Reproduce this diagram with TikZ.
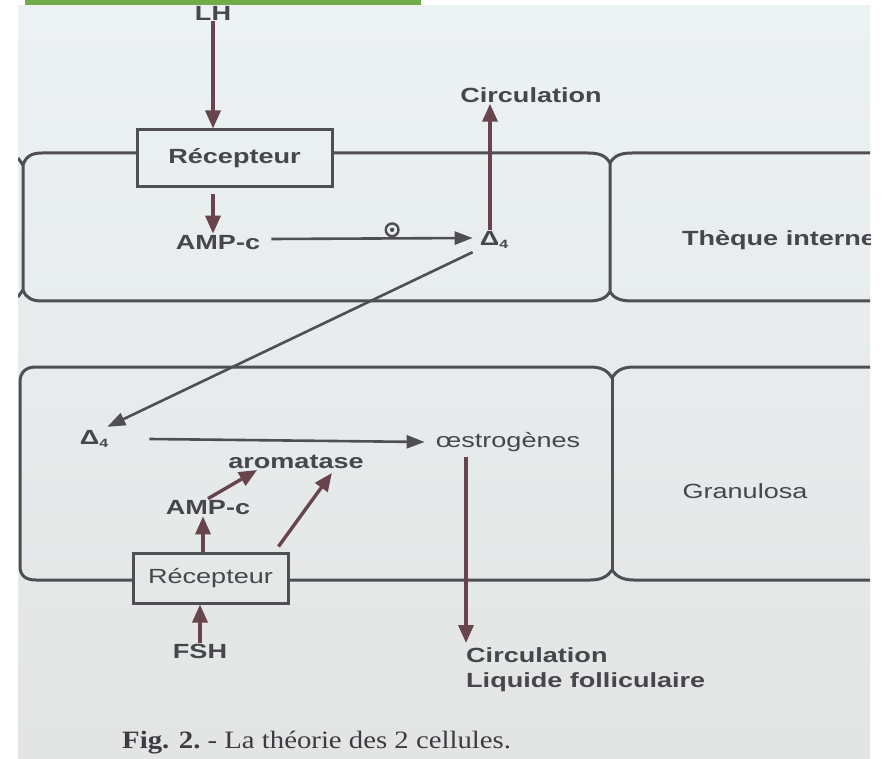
\documentclass[tikz,border=0pt]{standalone}
\usepackage{fontspec}
\setmainfont{Liberation Serif}
\newfontfamily\labfont[FakeStretch=1.32]{Liberation Sans}
\newfontfamily\capfont[FakeStretch=1.15]{Liberation Serif}
\usetikzlibrary{arrows.meta,calc}
\definecolor{bgtop}{RGB}{236,241,244}
\definecolor{bgbot}{RGB}{226,229,227}
\definecolor{cellline}{RGB}{78,78,84}
\definecolor{arrcol}{RGB}{104,68,76}
\definecolor{txtcol}{RGB}{70,70,76}
\definecolor{greenbar}{RGB}{112,173,71}
\tikzset{
  lab/.style={font=\labfont\fontsize{20.5}{24}\selectfont\bfseries, text=txtcol, inner sep=1pt},
  labr/.style={font=\labfont\fontsize{20.5}{24}\selectfont, text=txtcol, inner sep=1pt},
  rbox/.style={draw=cellline, line width=3pt, inner sep=0pt},
  arr/.style={draw=arrcol, line width=3.4pt, -{Triangle[length=18pt,width=15pt]}},
  arrthin/.style={draw=cellline, line width=2.6pt, -{Triangle[length=18pt,width=13pt]}},
  cell/.style={draw=cellline, line width=3pt, line join=round},
}
\begin{document}
\begin{tikzpicture}[x=1pt,y=-1pt]
\useasboundingbox (0,0) rectangle (886,759);
\fill[white] (0,0) rectangle (886,759);
\shade[top color=bgtop, bottom color=bgbot] (18,6) rectangle (870,759);
\fill[greenbar] (25,0) rectangle (421,5);
\begin{scope}
\clip (18,6) rectangle (870,759);
% ---- thèque interne cells
\draw[cell] (18,158) -- (23,165) .. controls (26,156) and (32,153) .. (42,153) -- (137,153);
\draw[cell] (332,153) -- (588,153) .. controls (600,153) and (606,156) .. (610,163);
\draw[cell] (610,163) .. controls (614,156) and (620,153) .. (632,153) -- (870,153);
\draw[cell] (23,165) -- (23,290) .. controls (26,298) and (32,301) .. (42,301) -- (588,301)
  .. controls (600,301) and (606,298) .. (610,292);
\draw[cell] (18,297) -- (23,290);
\draw[cell] (610,163) -- (610,292) .. controls (614,298) and (620,301) .. (632,301) -- (870,301);
% ---- granulosa cells
\draw[cell] (133,580) -- (36,580) .. controls (26,580) and (20,576) .. (20,566) -- (20,382)
  .. controls (20,372) and (26,367) .. (36,367) -- (590,367) .. controls (602,367) and (608,371) .. (612,378);
\draw[cell] (612,378) .. controls (616,371) and (622,367) .. (634,367) -- (870,367);
\draw[cell] (612,378) -- (612,570);
\draw[cell] (288,580) -- (590,580) .. controls (602,580) and (608,576) .. (612,570)
  .. controls (616,576) and (622,580) .. (634,580) -- (870,580);
% ---- nodes
\node[lab] (LH) at (213,13) {LH};
\node[rbox, minimum width=195pt, minimum height=57pt] (R1) at (234.5,158.5) {};
\node[lab] (R1t) at (R1.center) {Récepteur};
\node[lab] (A1) at (218,243) {AMP-c};
\node[lab] (D1) at (494,240) {Δ\raisebox{-0.35ex}{\fontsize{12}{13}\selectfont 4}};
\node[lab] (C1) at (531,95) {Circulation};
\node[lab] (TI) at (779,240) {Thèque interne};
\node[lab] (D2) at (94,439) {Δ\raisebox{-0.35ex}{\fontsize{12}{13}\selectfont 4}};
\node[labr] (OE) at (508,442) {œstrogènes};
\node[lab] (AR) at (296,462) {aromatase};
\node[lab] (A2) at (208,508) {AMP-c};
\node[rbox, minimum width=155pt, minimum height=50pt] (R2) at (210.5,578) {};
\node[labr] (R2t) at (R2.center) {Récepteur};
\node[lab] (FSH) at (200,651) {FSH};
\node[lab, align=left, anchor=north west, inner sep=0pt, font=\labfont\fontsize{20.5}{25}\selectfont\bfseries] (C2) at (466,647) {Circulation\\Liquide folliculaire};
\node[labr] (GR) at (745,491) {Granulosa};
% ---- arrows
\draw[arr] (LH.south) -- (R1.north -| LH.south);
\draw[arr] (R1.south -| LH.south) ++(0,6) coordinate (r1s) -- ($(A1.north -| LH.south)+(0,-1)$);
\draw[arrthin] (A1.east) ++(10,-4) coordinate (a1e) -- ($(D1.west)+(-6,-2)$)
  node[pos=0.6, above=1pt, draw=cellline, circle, line width=2.4pt, inner sep=4.5pt, fill=none] (sym) {};
\fill[cellline] (sym.center) circle (2.2pt);
\draw[arr] (D1.north -| 490,0) -- (C1.south -| 490,0);
\draw[arrthin] ($(D1.south west)+(-6,2)$) -- ($(D2.north east)+(-2,-2)$);
\draw[arrthin] ($(D2.east)+(40,0)$) -- ($(OE.west)+(-10,0)$);
\draw[arr] ($(A2.north)+(0,-1)$) -- ($(AR.south west)+(30,0)$);
\draw[arr] ($(R2.north east)+(-11,-5)$) -- ($(AR.south east)+(-33,3)$);
\draw[arr] (R2.north -| A2.south) ++(-5,0) coordinate (r2a) -- ($(A2.south)+(-5,0)$);
\draw[arr] (FSH.north) -- (R2.south -| FSH.north);
\draw[arr] (OE.south -| C2.north west) ++(0,4) coordinate (oes) -- ($(C2.north west)+(0,-4)$);
\end{scope}
\node[anchor=base west, inner sep=0pt, text=txtcol!85!black] (CAP) at (122,748)
  {\capfont\fontsize{25}{28}\selectfont\bfseries Fig. 2.\ \mdseries - La théorie des 2 cellules.};
\end{tikzpicture}
\end{document}
